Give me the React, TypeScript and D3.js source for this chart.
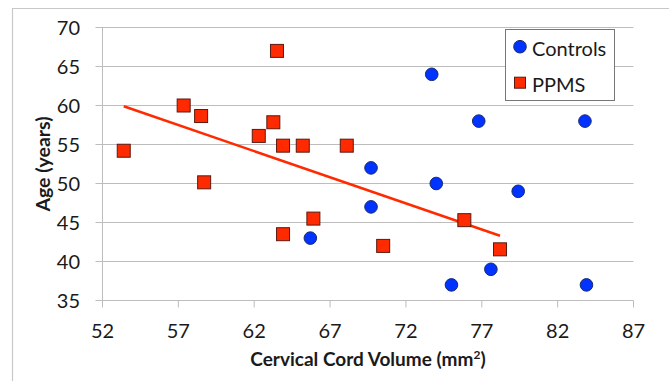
import React from "react";
import * as d3 from "d3";

const width = 669;
const height = 381;
const margin = { top: 27.5, right: 35.5, bottom: 80.5, left: 102.5 };

// Controls: cervical cord volume (mm2) vs age (years)
const controlsVolume = [73.7, 76.8, 83.8, 69.7, 74.0, 79.4, 69.7, 75.0, 77.6, 83.9, 65.7];
const controlsAge = [64, 58, 58, 52, 50, 49, 47, 37, 39, 37, 43];

// PPMS patients
const ppmsVolume = [53.4, 57.35, 58.5, 58.7, 63.5, 62.3, 63.26, 63.9, 65.2, 68.1, 63.9, 65.9, 70.5, 75.85, 78.2];
const ppmsAge = [54.2, 60, 58.65, 50.15, 67, 56.1, 57.85, 54.85, 54.85, 54.85, 43.5, 45.5, 42, 45.3, 41.56];

const xTicks = [52, 57, 62, 67, 72, 77, 82, 87];
const yTicks = [35, 40, 45, 50, 55, 60, 65, 70];

const colors = {
  controls: "#0033ff",
  ppms: "#ff2a00",
  trend: "#ff2a00",
  grid: "#bdbdbd",
  text: "#1a1a1a"
};

const font = "Lato, 'Open Sans', sans-serif";

export default function App() {
  const xScale = d3
    .scaleLinear()
    .domain([52, 87])
    .range([margin.left, width - margin.right]);

  const yScale = d3
    .scaleLinear()
    .domain([35, 70])
    .range([height - margin.bottom, margin.top]);

  // linear trendline for PPMS (least squares)
  const mx = d3.mean(ppmsVolume) as number;
  const my = d3.mean(ppmsAge) as number;
  let sxy = 0;
  let sxx = 0;
  ppmsVolume.forEach((v, i) => {
    sxy += (v - mx) * (ppmsAge[i] - my);
    sxx += (v - mx) * (v - mx);
  });
  const slope = sxy / sxx;
  const [x0, x1] = d3.extent(ppmsVolume) as [number, number];
  const trend = d3
    .line<number>()
    .x(d => xScale(d))
    .y(d => yScale(my + slope * (d - mx)));

  const controls = controlsVolume.map((v, i) => ({ x: v, y: controlsAge[i] }));
  const ppms = ppmsVolume.map((v, i) => ({ x: v, y: ppmsAge[i] }));

  const left = xScale(52);
  const right = xScale(87);
  const bottom = yScale(35);
  const sq = 13;

  return (
    <svg
      width={width}
      height={height}
      style={{ position: "absolute", left: 0, top: 0, background: "#fff" }}
      fontFamily={font}
    >
      {/* outer chart frame */}
      <path d={`M12.5,${height}V8.5H${width}`} fill="none" stroke="#c8c8c8" strokeWidth={1.2} />

      {/* gridlines + y ticks */}
      <g>
        {yTicks.map(t => (
          <g key={t}>
            <line x1={left - 7} x2={right} y1={yScale(t)} y2={yScale(t)} stroke={colors.grid} strokeWidth={1} />
            <text x={80} y={yScale(t)} dy="0.36em" textAnchor="end" fontSize={20} fill={colors.text}>
              {t}
            </text>
          </g>
        ))}
      </g>

      {/* axes */}
      <line x1={left} x2={left} y1={margin.top} y2={bottom} stroke={colors.grid} />
      <g>
        {xTicks.map(t => (
          <g key={t}>
            <line x1={xScale(t)} x2={xScale(t)} y1={bottom} y2={bottom + 7} stroke={colors.grid} />
            <text x={xScale(t)} y={337.5} textAnchor="middle" fontSize={20} fill={colors.text}>
              {t}
            </text>
          </g>
        ))}
      </g>

      {/* trendline */}
      <path d={trend([x0, x1]) || ""} fill="none" stroke={colors.trend} strokeWidth={2.5} />

      {/* controls */}
      {controls.map((d, i) => (
        <circle key={"c" + i} cx={xScale(d.x)} cy={yScale(d.y)} r={6.3} fill={colors.controls} stroke="#1a2a6c" strokeWidth={1} />
      ))}

      {/* PPMS */}
      {ppms.map((d, i) => (
        <rect
          key={"p" + i}
          x={xScale(d.x) - sq / 2}
          y={yScale(d.y) - sq / 2}
          width={sq}
          height={sq}
          fill={colors.ppms}
          stroke="#5a1a10"
          strokeWidth={1}
        />
      ))}

      {/* axis titles */}
      <text x={(left + right) / 2} y={366} textAnchor="middle" fontSize={19} fontWeight="bold" fill={colors.text}>
        Cervical Cord Volume (mm<tspan dy={-7} fontSize={12}>2</tspan>
        <tspan dy={7}>)</tspan>
      </text>
      <text
        transform={`translate(50,${(margin.top + bottom) / 2}) rotate(-90)`}
        textAnchor="middle"
        fontSize={19.5}
        fontWeight="bold"
        fill={colors.text}
      >
        Age (years)
      </text>

      {/* legend */}
      <g>
        <rect x={505.5} y={29.5} width={109} height={71} fill="#fff" stroke="#777" strokeWidth={1} />
        <circle cx={520} cy={46.7} r={6.3} fill={colors.controls} stroke="#1a2a6c" strokeWidth={1} />
        <text x={532} y={56} fontSize={20} fill={colors.text}>
          Controls
        </text>
        <rect x={520 - 5.5} y={82.7 - 5.5} width={11} height={11} fill={colors.ppms} stroke="#5a1a10" strokeWidth={1} />
        <text x={532} y={91.5} fontSize={20} fill={colors.text}>
          PPMS
        </text>
      </g>
    </svg>
  );
}
